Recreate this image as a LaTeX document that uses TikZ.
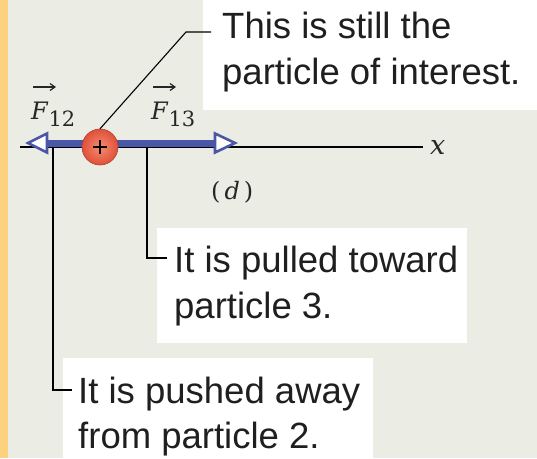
\documentclass[tikz,border=0pt]{standalone}
\usepackage{fontspec}
\usetikzlibrary{arrows.meta}
\newfontfamily\callfont{Liberation Sans}
\newfontfamily\lblfont{DejaVu Serif}
\newcommand{\forcelbl}[1]{\textit{F}\raisebox{-7pt}{\fontsize{21}{22}\selectfont #1}}
\definecolor{bgc}{HTML}{EBECE3}
\definecolor{orng}{HTML}{FDD27E}
\definecolor{fblue}{HTML}{4A56A6}
\definecolor{pred}{HTML}{E0503A}
\definecolor{plight}{HTML}{F58C70}
\tikzset{
  wbox/.style={fill=white, draw=none, anchor=north west, inner sep=0pt},
  calltext/.style={anchor=base west, inner sep=0pt, font=\callfont\fontsize{36.5}{44}\selectfont, text=black!88},
  leader/.style={draw=black, line width=1.4pt},
  axisline/.style={draw=black, line width=1.4pt},
  forcebar/.style={draw=fblue, line width=7pt},
  forcehead/.style={draw=fblue, fill=white, line width=2.6pt, line join=miter},
  mlabel/.style={inner sep=0pt, anchor=base west, text=black!85, font=\lblfont\fontsize{24}{28}\selectfont},
  vecarr/.style={draw=black!85, line width=1.2pt, -{Straight Barb[length=5pt,width=7pt]}}
}
\begin{document}
\begin{tikzpicture}[x=1pt,y=-1pt]
\useasboundingbox (0,0) rectangle (537,458);
\fill[bgc] (0,0) rectangle (537,458);
\fill[orng] (0,0) rectangle (8,458);
% white callout boxes
\node[wbox, minimum width=334, minimum height=110] (boxA) at (203,0) {};
\node[wbox, minimum width=310, minimum height=115] (boxB) at (157,228) {};
\node[wbox, minimum width=310, minimum height=100] (boxC) at (63,358) {};
% axis
\coordinate (axL) at (20,147);
\coordinate (axR) at (423,147);
\draw[axisline] (axL) -- (axR);
\node[mlabel, font=\lblfont\fontsize{27}{30}\selectfont] (xlab) at (430,154) {\textit{x}};
% leaders
\coordinate (c1) at (147,147);
\coordinate (c1b) at (147,258);
\coordinate (c1e) at (167,258);
\draw[leader] (c1) -- (c1b) -- (c1e);
\coordinate (c2) at (53,147);
\coordinate (c2b) at (53,390);
\coordinate (c2e) at (72,390);
\draw[leader] (c2) -- (c2b) -- (c2e);
% force arrows
\coordinate (fl) at (46,143);
\coordinate (fr) at (216,143);
\draw[forcebar] (fl) -- (fr);
\draw[forcehead] (28,143) -- (47,133.5) -- (47,152.5) -- cycle;
\draw[forcehead] (235,143) -- (215,133.5) -- (215,152.5) -- cycle;
% particle
\coordinate (pc) at (100,147);
\shade[inner color=plight, outer color=pred] (pc) circle (18);
\draw[pred!80!black, line width=0.6pt] (pc) circle (18);
\draw[black, line width=2.4pt] (93,147) -- (107,147) (100,140) -- (100,154);
\node[inner sep=0pt, minimum size=36] (part) at (pc) {};
% top leader
\coordinate (tA) at (186,32);
\coordinate (tB) at (211,32);
\draw[leader, line width=1.1pt] (part.north) -- (tA) -- (tB);
% force labels
\node[mlabel] (F12) at (31,119) {\forcelbl{12}};
\node[mlabel] (F13) at (151,119) {\forcelbl{13}};
\draw[vecarr] ([shift={(2,-32)}]F12.base west) -- ([shift={(25,-32)}]F12.base west);
\draw[vecarr] ([shift={(2,-32)}]F13.base west) -- ([shift={(25,-32)}]F13.base west);
\node[mlabel] (dlab) at (211,199) {(\,\textit{d}\,)};
% texts
\node[calltext] (tA1) at (222,38) {This is still the};
\node[calltext] (tA2) at (222,84) {particle of interest.};
\node[calltext] (tB1) at (174,272) {It is pulled toward};
\node[calltext] (tB2) at (174,318) {particle 3.};
\node[calltext] (tC1) at (78,403) {It is pushed away};
\node[calltext] (tC2) at (78,448) {from particle 2.};
\end{tikzpicture}
\end{document}
